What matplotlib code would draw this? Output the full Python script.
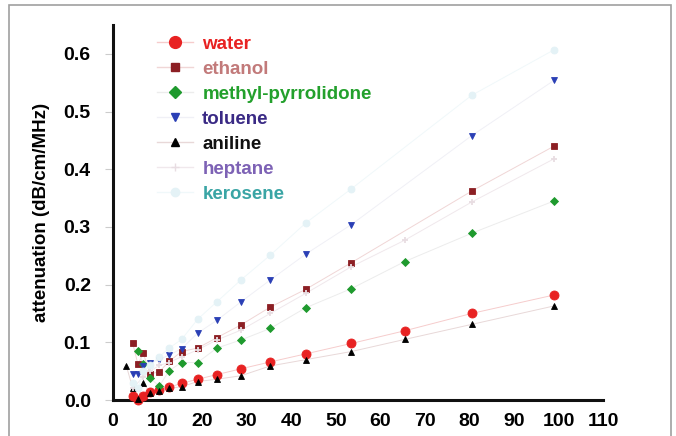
import matplotlib
matplotlib.use("Agg")
import matplotlib.pyplot as plt
from matplotlib.lines import Line2D
from matplotlib.patches import Rectangle

plt.rcParams['font.family'] = ['Liberation Sans', 'DejaVu Sans']
plt.rcParams['font.weight'] = 'bold'

# ---- data (frequency in MHz, attenuation in dB/cm/MHz) ----
f_water = [4.4, 5.6, 6.8, 8.3, 10.4, 12.6, 15.4, 19.0, 23.3, 28.7, 35.3, 43.3, 53.5, 65.5, 80.5, 99.0]
water = [0.007, 0.000, 0.007, 0.014, 0.017, 0.022, 0.029, 0.036, 0.044, 0.054, 0.066, 0.080, 0.098, 0.120, 0.150, 0.182]

f_ethanol = [4.4, 5.6, 6.8, 8.3, 10.4, 12.6, 15.4, 19.0, 23.3, 28.7, 35.3, 43.3, 53.5, 80.5, 99.0]
ethanol = [0.099, 0.062, 0.081, 0.045, 0.049, 0.067, 0.084, 0.090, 0.108, 0.130, 0.161, 0.192, 0.238, 0.362, 0.440]

f_methyl = [5.6, 6.8, 8.3, 10.4, 12.6, 15.4, 19.0, 23.3, 28.7, 35.3, 43.3, 53.5, 65.5, 80.5, 99.0]
methyl = [0.085, 0.062, 0.038, 0.024, 0.051, 0.065, 0.065, 0.090, 0.104, 0.124, 0.160, 0.193, 0.240, 0.289, 0.345]

f_toluene = [4.4, 5.6, 6.8, 8.3, 10.4, 12.6, 15.4, 19.0, 23.3, 28.7, 35.3, 43.3, 53.5, 80.5, 99.0]
toluene = [0.045, 0.045, 0.059, 0.065, 0.070, 0.078, 0.089, 0.116, 0.138, 0.170, 0.208, 0.253, 0.304, 0.458, 0.554]

f_aniline = [3.0, 4.4, 5.6, 6.8, 8.3, 10.4, 12.6, 15.4, 19.0, 23.3, 28.7, 35.3, 43.3, 53.5, 65.5, 80.5, 99.0]
aniline = [0.059, 0.021, 0.002, 0.029, 0.013, 0.016, 0.020, 0.023, 0.032, 0.036, 0.042, 0.059, 0.070, 0.084, 0.105, 0.131, 0.163]

f_heptane = [4.4, 6.8, 8.3, 10.4, 12.6, 15.4, 19.0, 23.3, 28.7, 35.3, 43.3, 53.5, 65.5, 80.5, 99.0]
heptane = [0.020, 0.040, 0.050, 0.060, 0.065, 0.075, 0.087, 0.104, 0.121, 0.150, 0.185, 0.231, 0.277, 0.343, 0.418]

f_kerosene = [4.4, 5.6, 6.8, 8.3, 10.4, 12.6, 15.4, 19.0, 23.3, 28.7, 35.3, 43.3, 53.5, 80.5, 99.0]
kerosene = [0.030, 0.020, 0.050, 0.060, 0.075, 0.090, 0.105, 0.140, 0.170, 0.208, 0.251, 0.307, 0.366, 0.528, 0.607]

names = ['water', 'ethanol', 'methyl-pyrrolidone', 'toluene', 'aniline', 'heptane', 'kerosene']
xs = [f_water, f_ethanol, f_methyl, f_toluene, f_aniline, f_heptane, f_kerosene]
ys = [water, ethanol, methyl, toluene, aniline, heptane, kerosene]

x_ticks = [0, 10, 20, 30, 40, 50, 60, 70, 80, 90, 100, 110]
y_ticks = [0.0, 0.1, 0.2, 0.3, 0.4, 0.5, 0.6]

# ---- styles ----
markers = ['o', 's', 'D', 'v', '^', '+', 'o']
msizes = [6.5, 4.3, 4.3, 4.8, 4.8, 5, 5]
mcolors = ['#e82222', '#8c1f24', '#1f9a2e', '#2a3fb5', '#000000', '#e8dde2', '#e4f2f6']
lcolors = ['#f6cccc', '#f0d6d6', '#ececec', '#f0f0f6', '#e8d8d8', '#f0e8ec', '#f0f8fa']
tcolors = ['#e82222', '#c27a7a', '#23a02c', '#3a2a85', '#111111', '#7d62b5', '#3aa5a5']

fig = plt.figure(figsize=(6.76, 4.36), dpi=100)
fig.patches.append(Rectangle((9/676, -0.02), (671-9)/676, 1 - 5/436 + 0.02,
                             transform=fig.transFigure, fill=False,
                             edgecolor='#a0a0a0', linewidth=1.2))
ax = fig.add_axes([113/676, 1 - 400/436, (603-113)/676, (400-25)/436])

for x, y, m, ms, mc, lc in zip(xs, ys, markers, msizes, mcolors, lcolors):
    ax.plot(x, y, '-', color=lc, linewidth=0.7, zorder=2, clip_on=False)
    ax.plot(x, y, linestyle='none', marker=m, markersize=ms, color=mc,
            markeredgecolor=mc, markeredgewidth=0.6 if m != '+' else 1.3,
            zorder=3, clip_on=False)

ax.set_xlim(0, 110)
ax.set_ylim(0, 0.65)
ax.set_xticks(x_ticks)
ax.set_yticks(y_ticks)
ax.set_xticklabels([str(t) for t in x_ticks], fontsize=14, fontweight='bold')
ax.set_yticklabels(['%.1f' % t for t in y_ticks], fontsize=14, fontweight='bold')
ax.tick_params(axis='x', length=0, pad=9)
ax.tick_params(axis='y', length=6, width=0.8, color='#cccccc', pad=10)
for s in ['top', 'right']:
    ax.spines[s].set_visible(False)
for s in ['left', 'bottom']:
    ax.spines[s].set_linewidth(2.2)
    ax.spines[s].set_color('#111111')
ax.set_ylabel('attenuation (dB/cm/MHz)', fontsize=13.5, fontweight='bold', labelpad=10)

handles = []
for m, ms, mc, lc in zip(markers, [8.5, 5.5, 6.0, 6.0, 6.0, 6, 6], mcolors, lcolors):
    handles.append(Line2D([], [], color=lc, linewidth=1.0, marker=m, markersize=ms,
                          markerfacecolor=mc, markeredgecolor=mc))
leg = ax.legend(handles, names, loc='upper left', bbox_to_anchor=(0.075, 0.992),
                frameon=False, handlelength=1.9, handletextpad=0.5,
                labelspacing=0.42, prop={'size': 13.5, 'weight': 'bold'},
                labelcolor=tcolors, borderaxespad=0)

fig.savefig('out.png', dpi=100)
